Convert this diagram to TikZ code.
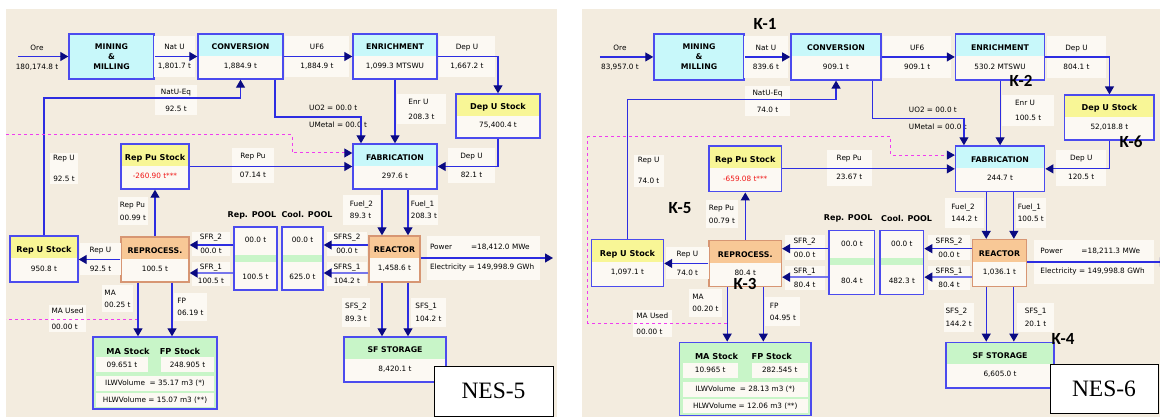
\documentclass[tikz,border=0pt]{standalone}
\usepackage{fontspec}
\setmainfont{DejaVu Sans}
\newfontfamily\nesfont{Liberation Serif}
\newfontfamily\kfont{Carlito}
\usetikzlibrary{arrows.meta}
\definecolor{paper}{RGB}{243,236,223}
\definecolor{cream}{RGB}{252,249,243}
\definecolor{edge}{RGB}{75,75,238}
\definecolor{wire}{RGB}{45,45,225}
\definecolor{navy}{RGB}{10,10,130}
\definecolor{aqua}{RGB}{200,248,250}
\definecolor{lemon}{RGB}{248,246,150}
\definecolor{peach}{RGB}{248,200,150}
\definecolor{mint}{RGB}{200,245,200}
\definecolor{clay}{RGB}{215,150,115}
\definecolor{pink}{RGB}{240,60,240}
\definecolor{alarm}{RGB}{240,20,20}
% values of one panel
\newcommand\setv[2]{\expandafter\def\csname nes#1\endcsname{#2}}
\newcommand\V[1]{\csname nes#1\endcsname}
\newcommand\hd[1]{{\fontsize{7.8}{10}\selectfont\bfseries #1}}
\newcommand\sk[1]{{\fontsize{8.1}{11}\selectfont\bfseries #1}}
\def\pw{1}\def\ph{1}
\tikzset{
  >={Triangle[length=8pt,width=9pt,color=navy]},
  flow/.style={->,line width=1.2pt,draw=wire},
  wide flow/.style={flow,line width=2pt,draw=wire!65},
  maflow/.style={->,line width=1pt,draw=pink,dash pattern=on 3pt off 3pt},
  sz/.style 2 args={minimum width=\pw*#1pt,minimum height=\ph*#2pt},
  unit/.style={draw=edge,line width=1.4pt,fill=cream,inner sep=0pt,align=center,
    font=\fontsize{7.3}{18.5}\selectfont,
    path picture={\fill[#1] (path picture bounding box.north west)
      rectangle ([yshift=-22pt]path picture bounding box.north east);}},
  unit/.default=aqua,
  pool/.style={draw=edge,line width=1.4pt,fill=cream,inner sep=0pt,align=center,
    font=\fontsize{7.3}{37}\selectfont,
    path picture={\fill[mint] ([yshift=-28pt]path picture bounding box.north west)
      rectangle ([yshift=-35pt]path picture bounding box.north east);}},
  tag/.style={fill=cream,inner sep=0pt,align=center,font=\fontsize{7.3}{#1}\selectfont},
  tag/.default=19,
  ltag/.style={tag=#1,align=left},
  ltag/.default=13,
  pooltitle/.style={font=\fontsize{8}{11}\selectfont\bfseries},
  nesbox/.style={draw=black,line width=1pt,fill=white,inner sep=0pt,
    font=\nesfont\fontsize{23.5}{26}\selectfont},
  klabel/.style={font=\kfont\fontsize{17}{20}\selectfont\bfseries},
}
\newcommand\nespanel{%
  % units
  \node[unit,fill=aqua,sz={85}{45},font=\fontsize{7.8}{10}\selectfont\bfseries] (mine) at (111.5,56.5) {MINING\\\&\\MILLING};
  \node[unit,sz={85}{45}] (conv) at (240.5,56.5) {\hd{CONVERSION}\\\V{conv}};
  \node[unit,sz={84}{45}] (enr) at (395,56.5) {\hd{ENRICHMENT}\\\V{enr}};
  \node[unit=lemon,sz={84}{44}] (depst) at (498,116) {\sk{Dep U Stock}\\\V{depst}};
  \node[unit,sz={84}{45}] (fab) at (395,166.5) {\hd{FABRICATION}\\\V{fab}};
  \node[unit=lemon,sz={68}{45}] (pust) at (155,166.5) {\sk{Rep Pu Stock}\\\textcolor{alarm}{\V{pust}}};
  \node[unit=lemon,sz={68}{46}] (rust) at (44,259) {\sk{Rep U Stock}\\\V{rust}};
  \node[unit=peach,draw=clay,sz={68}{45}] (repro) at (155,259.5) {\hd{REPROCESS.}\\\V{repro}};
  \node[unit=peach,draw=clay,sz={51}{46}] (reac) at (394.5,259) {\hd{REACTOR}\\\V{reac}};
  \node[unit=mint,sz={102}{45}] (sfst) at (395,359.5) {\hd{SF STORAGE}\\\V{sfst}};
  \node[pool,sz={43}{63}] (rpool) at (255.5,258.5) {\V{rpa}\\\V{rpb}};
  \node[pool,sz={41}{63}] (cpool) at (302.5,258.5) {\V{cpa}\\\V{cpb}};
  \node[pooltitle] (rptitle) at (252,215) {Rep. POOL};
  \node[pooltitle] (cptitle) at (307,215) {Cool. POOL};
  % waste stock
  \node[draw=edge,line width=1.4pt,fill=mint,sz={124}{72}] (mafp) at (155,373) {};
  \node[pooltitle,font=\fontsize{8.2}{11}\selectfont\bfseries] (matitle) at (128,351) {MA Stock};
  \node[pooltitle,font=\fontsize{8.2}{11}\selectfont\bfseries] (fptitle) at (180,351) {FP Stock};
  \node[tag,sz={52}{15}] (mast) at (122,364.5) {\V{mast}};
  \node[tag,sz={53}{15}] (fpst) at (187.5,364.5) {\V{fpst}};
  \node[tag,sz={118}{15}] (ilw) at (155,383.5) {ILWVolume \ = \V{ilw}};
  \node[tag,sz={118}{14}] (hlw) at (155,400) {HLWVolume = \V{hlw}};
  % flow labels
  \node[tag,fill=none] (tore) at (37,57.5) {Ore\\\V{ore}};
  \node[tag,sz={41}{41}] (tnatu) at (174.5,56.5) {Nat U\\\V{natu}};
  \node[tag,sz={64}{41}] (tuf) at (317,56.5) {UF6\\\V{uf}};
  \node[tag,sz={56}{41}] (tdep) at (467,56.5) {Dep U\\\V{dep}};
  \node[tag=17,sz={42}{30}] (teq) at (176,100) {NatU-Eq\\\V{eq}};
  \node[ltag=17,fill=none,anchor=west] (tuo) at (309,116.5) {UO2 = \V{uo}\\UMetal = \V{um}};
  \node[ltag=15,sz={49}{30}] (tenr) at (421.5,109) {Enr U\\\V{enru}};
  \node[tag,sz={47}{35}] (tdepf) at (471.5,165.5) {Dep U\\\V{depf}};
  \node[tag,sz={42}{35}] (trpu) at (253,165.5) {Rep Pu\\\V{rpu}};
  \node[tag=21,sz={28}{31}] (truv) at (64,168.5) {Rep U\\\V{ruv}};
  \node[ltag,sz={30}{28}] (trpuv) at (133,211) {Rep Pu\\\V{rpuv}};
  \node[ltag=12,sz={37}{30}] (tfa) at (361.5,210) {Fuel\_2\\\V{fa}};
  \node[ltag=12,sz={28}{30}] (tfb) at (424,210) {Fuel\_1\\\V{fb}};
  \node[tag,sz={41}{32}] (truh) at (100.5,259) {Rep U\\\V{ruh}};
  \node[tag=14,sz={38}{24}] (tsra) at (211,244) {SFR\_2\\\V{sra}};
  \node[tag=14,sz={38}{24}] (tsrb) at (211,274) {SFR\_1\\\V{srb}};
  \node[tag=14,sz={40}{24}] (tssa) at (347,244) {SFRS\_2\\\V{ssa}};
  \node[tag=14,sz={40}{24}] (tssb) at (347,274) {SFRS\_1\\\V{ssb}};
  \node[ltag=20,sz={113}{44},text width=107pt] (tpow) at (483.5,258) {\makebox[41pt][l]{Power}\V{pow}\\Electricity = \V{ele}};
  \node[ltag=12,sz={31}{27}] (tma) at (117.5,298.5) {MA\\\V{ma}};
  \node[ltag=12,sz={33}{28}] (tfp) at (190.5,307) {FP\\\V{fp}};
  \node[ltag=16,sz={37}{27}] (tmau) at (67.5,318.5) {MA Used\\\V{mau}};
  \node[ltag,sz={28}{29}] (tsfa) at (356,312.5) {SFS\_2\\\V{sfa}};
  \node[ltag,sz={35}{29}] (tsfb) at (428.5,312.5) {SFS\_1\\\V{sfb}};
  % connectors
  \coordinate (ore) at (18,56.5);
  \coordinate (grid) at (553,258);
  \coordinate (mastub) at (138,319);
  \coordinate (mauA) at (6,319);
  \coordinate (mauB) at (6,135);
  \draw[flow] (ore) -- (mine.west);
  \draw[flow] (mine.east) -- (conv.west);
  \draw[flow] (conv.east) -- (enr.west);
  \draw[flow] (enr.east) -| (depst.north);
  \draw[flow] (depst.south) |- (fab.east);
  \draw[flow] (enr.south) -- (fab.north);
  \draw[flow] (conv.south -| 275,0) |- (361,117) -- (fab.north -| 361,0);
  \draw[flow] (rust.north) |- (conv.south |- 0,98) -- (conv.south);
  \draw[flow] (pust.east) -- (fab.west);
  \draw[maflow] (mauB) -| (292,153) -- (fab.west |- 0,153);
  \draw[maflow,-] (mastub) -- (mauA);
  \draw[flow] (fab.south -| 382,0) -- (reac.north -| 382,0);
  \draw[flow] (fab.south -| 408,0) -- (reac.north -| 408,0);
  \draw[flow] (reac.south -| 382,0) -- (sfst.north -| 382,0);
  \draw[flow] (reac.south -| 408,0) -- (sfst.north -| 408,0);
  \draw[flow] (reac.west |- 0,245) -- (cpool.east |- 0,245);
  \draw[wide flow] (reac.west |- 0,273) -- (cpool.east |- 0,273);
  \draw[flow] (rpool.west |- 0,245) -- (repro.east |- 0,245);
  \draw[wide flow] (rpool.west |- 0,273) -- (repro.east |- 0,273);
  \draw[flow] (repro.north) -- (pust.south);
  \draw[flow] (repro.west) -- (rust.east |- repro.west);
  \draw[flow] (repro.south -| 138,0) -- (mafp.north -| 138,0);
  \draw[flow] (repro.south -| 172,0) -- (mafp.north -| 172,0);
  \draw[flow] (reac.east |- grid) -- (grid);
}
\begin{document}
\begin{tikzpicture}[x=1pt,y=-1pt]
  \useasboundingbox (0,0) rectangle (1160,417);
  \fill[white] (0,0) rectangle (1160,417);
  \fill[paper] (6,9) rectangle (557,417);
  \fill[paper] (582,9) rectangle (1160,417);
  % NES-5
  \setv{ore}{180,174.8 t}\setv{natu}{1,801.7 t}\setv{conv}{1,884.9 t}
  \setv{uf}{1,884.9 t}\setv{enr}{1,099.3 MTSWU}\setv{dep}{1,667.2 t}
  \setv{depst}{75,400.4 t}\setv{eq}{92.5 t}\setv{uo}{00.0 t}\setv{um}{00.0 t}
  \setv{enru}{208.3 t}\setv{fab}{297.6 t}\setv{depf}{82.1 t}\setv{rpu}{07.14 t}
  \setv{pust}{-260.90 t***}\setv{ruv}{92.5 t}\setv{rpuv}{00.99 t}
  \setv{rust}{950.8 t}\setv{ruh}{92.5 t}\setv{repro}{100.5 t}
  \setv{sra}{00.0 t}\setv{srb}{100.5 t}\setv{rpa}{00.0 t}\setv{rpb}{100.5 t}
  \setv{cpa}{00.0 t}\setv{cpb}{625.0 t}\setv{ssa}{00.0 t}\setv{ssb}{104.2 t}
  \setv{fa}{89.3 t}\setv{fb}{208.3 t}\setv{reac}{1,458.6 t}
  \setv{pow}{=18,412.0 MWe}\setv{ele}{149,998.9 GWh}
  \setv{ma}{00.25 t}\setv{fp}{06.19 t}\setv{mau}{00.00 t}
  \setv{mast}{09.651 t}\setv{fpst}{248.905 t}
  \setv{ilw}{35.17 m3 (*)}\setv{hlw}{15.07 m3 (**)}
  \setv{sfa}{89.3 t}\setv{sfb}{104.2 t}\setv{sfst}{8,420.1 t}
  \begin{scope}[name prefix=a-]
    \nespanel
  \end{scope}
  % NES-6
  \begin{scope}[name prefix=b-,shift={(580.7,-0.5)},xscale=1.0616,yscale=1.017]
    \def\pw{1.0616}\def\ph{1.017}
    \setv{ore}{83,957.0 t}\setv{natu}{839.6 t}\setv{conv}{909.1 t}
    \setv{uf}{909.1 t}\setv{enr}{530.2 MTSWU}\setv{dep}{804.1 t}
    \setv{depst}{52,018.8 t}\setv{eq}{74.0 t}\setv{uo}{00.0 t}\setv{um}{00.0 t}
    \setv{enru}{100.5 t}\setv{fab}{244.7 t}\setv{depf}{120.5 t}\setv{rpu}{23.67 t}
    \setv{pust}{-659.08 t***}\setv{ruv}{74.0 t}\setv{rpuv}{00.79 t}
    \setv{rust}{1,097.1 t}\setv{ruh}{74.0 t}\setv{repro}{80.4 t}
    \setv{sra}{00.0 t}\setv{srb}{80.4 t}\setv{rpa}{00.0 t}\setv{rpb}{80.4 t}
    \setv{cpa}{00.0 t}\setv{cpb}{482.3 t}\setv{ssa}{00.0 t}\setv{ssb}{80.4 t}
    \setv{fa}{144.2 t}\setv{fb}{100.5 t}\setv{reac}{1,036.1 t}
    \setv{pow}{=18,211.3 MWe}\setv{ele}{149,998.8 GWh}
    \setv{ma}{00.20 t}\setv{fp}{04.95 t}\setv{mau}{00.00 t}
    \setv{mast}{10.965 t}\setv{fpst}{282.545 t}
    \setv{ilw}{28.13 m3 (*)}\setv{hlw}{12.06 m3 (**)}
    \setv{sfa}{144.2 t}\setv{sfb}{20.1 t}\setv{sfst}{6,605.0 t}
    \nespanel
    \draw[maflow,-] (mauA) -- (mauB);
  \end{scope}
  \node[nesbox,minimum width=119pt,minimum height=50pt] (nesa) at (493.5,391) {NES-5};
  \node[nesbox,minimum width=108pt,minimum height=49pt] (nesb) at (1104,388.5) {NES-6};
  \node[klabel] (k1) at (765,24) {K-1};
  \node[klabel] (k2) at (1021,81) {K-2};
  \node[klabel] (k3) at (745,284) {K-3};
  \node[klabel] (k4) at (1063,339) {K-4};
  \node[klabel] (k5) at (680,208) {K-5};
  \node[klabel] (k6) at (1131,142) {K-6};
\end{tikzpicture}
\end{document}
